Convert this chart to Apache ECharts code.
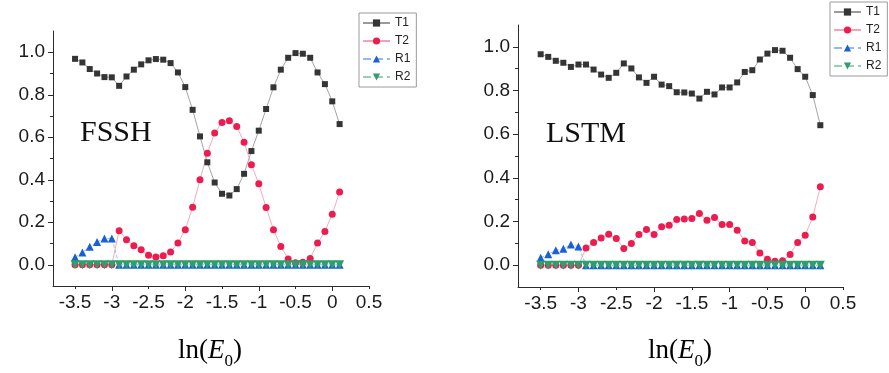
<!DOCTYPE html>
<html>
<head>
<meta charset="utf-8">
<script src="https://cdn.jsdelivr.net/npm/echarts@6/dist/echarts.min.js"></script>
<style>
  html, body { margin: 0; padding: 0; background: #fff; }
  #chart { width: 889px; height: 373px; }
</style>
</head>
<body>
<div id="chart"></div>
<script>
// ln(E0) sample points
const xFSSH = [-3.5,-3.4,-3.3,-3.2,-3.1,-3.0,-2.9,-2.8,-2.7,-2.6,-2.5,-2.4,-2.3,-2.2,-2.1,-2.0,-1.9,-1.8,-1.7,-1.6,-1.5,-1.4,-1.3,-1.2,-1.1,-1.0,-0.9,-0.8,-0.7,-0.6,-0.5,-0.4,-0.3,-0.2,-0.1,0.0,0.1];
const xLSTM = [-3.5,-3.4,-3.3,-3.2,-3.1,-3.0,-2.9,-2.8,-2.7,-2.6,-2.5,-2.4,-2.3,-2.2,-2.1,-2.0,-1.9,-1.8,-1.7,-1.6,-1.5,-1.4,-1.3,-1.2,-1.1,-1.0,-0.9,-0.8,-0.7,-0.6,-0.5,-0.4,-0.3,-0.2,-0.1,0.0,0.1,0.2];

// FSSH probabilities
const fsshT1 = [0.969,0.952,0.921,0.900,0.883,0.882,0.842,0.886,0.918,0.943,0.962,0.968,0.965,0.949,0.905,0.836,0.729,0.604,0.482,0.387,0.334,0.326,0.356,0.428,0.535,0.631,0.733,0.835,0.918,0.974,0.996,0.993,0.974,0.905,0.850,0.769,0.662];
const fsshT2 = [0,0,0,0,0,0,0.160,0.118,0.089,0.071,0.045,0.036,0.042,0.060,0.102,0.165,0.271,0.400,0.525,0.620,0.670,0.678,0.651,0.576,0.471,0.381,0.270,0.165,0.086,0.027,0.010,0.012,0.030,0.102,0.157,0.238,0.342];
const fsshR1 = [0.035,0.058,0.085,0.107,0.124,0.124,0,0,0,0,0,0,0,0,0,0,0,0,0,0,0,0,0,0,0,0,0,0,0,0,0,0,0,0,0,0,0];
const fsshR2 = [0,0,0,0,0,0,0,0,0,0,0,0,0,0,0,0,0,0,0,0,0,0,0,0,0,0,0,0,0,0,0,0,0,0,0,0,0];

// LSTM probabilities
const lstmT1 = [0.966,0.954,0.936,0.927,0.908,0.919,0.919,0.896,0.873,0.858,0.881,0.924,0.901,0.860,0.835,0.863,0.827,0.820,0.792,0.791,0.786,0.763,0.794,0.782,0.814,0.814,0.837,0.885,0.893,0.942,0.969,0.985,0.982,0.950,0.898,0.863,0.779,0.641];
const lstmT2 = [0,0,0,0,0,0,0.079,0.104,0.125,0.142,0.122,0.076,0.099,0.140,0.163,0.140,0.176,0.183,0.209,0.211,0.214,0.237,0.206,0.218,0.186,0.186,0.160,0.111,0.104,0.056,0.027,0.018,0.020,0.049,0.104,0.137,0.221,0.359];
const lstmR1 = [0.034,0.050,0.068,0.075,0.095,0.085,0,0,0,0,0,0,0,0,0,0,0,0,0,0,0,0,0,0,0,0,0,0,0,0,0,0,0,0,0,0,0,0];
const lstmR2 = [0,0,0,0,0,0,0,0,0,0,0,0,0,0,0,0,0,0,0,0,0,0,0,0,0,0,0,0,0,0,0,0,0,0,0,0,0,0];

// Tick positions
const xLabelTicks = [-3.5,-3,-2.5,-2,-1.5,-1,-0.5,0,0.5];
const xMajorTicks = [-3,-2,-1,0];
const xMinorTicks = [-3.5,-2.5,-1.5,-0.5,0.5];
const yLabelTicks = [0,0.2,0.4,0.6,0.8,1.0];
const yMinorTicks = [0.1,0.3,0.5,0.7,0.9];
const legendNames = ['T1','T2','R1','R2'];

const SANS = 'Liberation Sans, Arial, sans-serif';
const SERIF = 'Liberation Serif, Times New Roman, serif';
const AXIS_COLOR = '#2b2b2b';

const zip = (xs, ys) => xs.map((x, i) => [x, ys[i]]);

function mainX(gridIndex) {
  return {
    type: 'value', gridIndex, min: -3.8, max: 0.5,
    axisLine: { show: true, onZero: false, lineStyle: { color: AXIS_COLOR, width: 1 } },
    axisTick: { show: true, customValues: xMajorTicks, length: 5, lineStyle: { color: AXIS_COLOR } },
    axisLabel: { customValues: xLabelTicks, margin: 7, color: '#1a1a1a', fontSize: 19, fontFamily: SANS },
    splitLine: { show: false }
  };
}
function minorX(gridIndex) {
  return {
    type: 'value', gridIndex, min: -3.8, max: 0.5, position: 'bottom',
    axisLine: { show: false, onZero: false },
    axisTick: { show: true, customValues: xMinorTicks, length: 3, lineStyle: { color: AXIS_COLOR } },
    axisLabel: { show: false },
    splitLine: { show: false }
  };
}
function mainY(gridIndex) {
  return {
    type: 'value', gridIndex, min: -0.1, max: 1.1,
    axisLine: { show: true, onZero: false, lineStyle: { color: AXIS_COLOR, width: 1 } },
    axisTick: { show: true, customValues: yLabelTicks, length: 5, lineStyle: { color: AXIS_COLOR } },
    axisLabel: { customValues: yLabelTicks, margin: 8, color: '#1a1a1a', fontSize: 19, fontFamily: SANS,
                 formatter: v => v.toFixed(1) },
    splitLine: { show: false }
  };
}
function minorY(gridIndex) {
  return {
    type: 'value', gridIndex, min: -0.1, max: 1.1, position: 'left',
    axisLine: { show: false, onZero: false },
    axisTick: { show: true, customValues: yMinorTicks, length: 3, lineStyle: { color: AXIS_COLOR } },
    axisLabel: { show: false },
    splitLine: { show: false }
  };
}

const styles = {
  T1: { symbol: 'rect', symbolSize: 6, symbolRotate: 0, color: '#353535', line: '#9a9a9a', dash: 'solid' },
  T2: { symbol: 'circle', symbolSize: 7, symbolRotate: 0, color: '#ee1b4f', line: '#f4a2b6', dash: 'solid' },
  R1: { symbol: 'triangle', symbolSize: 8, symbolRotate: 0, color: '#1860d4', line: '#95b8ee', dash: 'dashed' },
  R2: { symbol: 'triangle', symbolSize: 9, symbolRotate: 180, color: '#2f9d6c', line: '#94d2b3', dash: 'dashed' }
};

function makeSeries(name, axisIndex, xs, ys) {
  const s = styles[name];
  return {
    type: 'line', name, xAxisIndex: axisIndex, yAxisIndex: axisIndex,
    data: zip(xs, ys),
    symbol: s.symbol, symbolSize: s.symbolSize, symbolRotate: s.symbolRotate,
    showAllSymbol: true,
    itemStyle: { color: s.color },
    lineStyle: { color: s.line, width: 0.9, type: s.dash },
    emphasis: { disabled: true },
    animation: false
  };
}

function makeLegend(left, top) {
  return {
    data: legendNames, left, top, orient: 'vertical',
    itemWidth: 27, itemHeight: 9, itemGap: 6, padding: [4, 6, 4, 3],
    borderColor: '#9a9a9a', borderWidth: 1, selectedMode: false,
    textStyle: { fontSize: 12, fontFamily: SANS, color: '#222' }
  };
}

function axisTitle(cx, cy) {
  return {
    type: 'text', left: cx - 35, top: cy - 17,
    style: {
      text: '{a|ln(}{e|E}{s|0}{a|)}',
      rich: {
        a: { fontFamily: SERIF, fontSize: 27, color: '#111', lineHeight: 30 },
        e: { fontFamily: SERIF, fontSize: 27, fontStyle: 'italic', color: '#111', lineHeight: 30 },
        s: { fontFamily: SERIF, fontSize: 17, color: '#111', lineHeight: 17, padding: [22, 0, 0, 0] }
      }
    }
  };
}

const chart = echarts.init(document.getElementById('chart'), null, { renderer: 'canvas' });
chart.setOption({
  backgroundColor: '#ffffff',
  animation: false,
  grid: [
    { left: 53, top: 31, width: 316, height: 255 },
    { left: 518, top: 25, width: 325, height: 262 }
  ],
  xAxis: [mainX(0), minorX(0), mainX(1), minorX(1)],
  yAxis: [mainY(0), minorY(0), mainY(1), minorY(1)],
  legend: [makeLegend(359, 13), makeLegend(830, 2)],
  series: [
    makeSeries('T1', 0, xFSSH, fsshT1),
    makeSeries('T2', 0, xFSSH, fsshT2),
    makeSeries('R1', 0, xFSSH, fsshR1),
    makeSeries('R2', 0, xFSSH, fsshR2),
    makeSeries('T1', 2, xLSTM, lstmT1),
    makeSeries('T2', 2, xLSTM, lstmT2),
    makeSeries('R1', 2, xLSTM, lstmR1),
    makeSeries('R2', 2, xLSTM, lstmR2)
  ],
  graphic: [
    { type: 'text', left: 80, top: 118,
      style: { text: 'FSSH', fontFamily: SERIF, fontSize: 30, fill: '#111' } },
    { type: 'text', left: 546, top: 119,
      style: { text: 'LSTM', fontFamily: SERIF, fontSize: 30, fill: '#111' } },
    axisTitle(213, 348),
    axisTitle(683, 348)
  ]
});
</script>
</body>
</html>
